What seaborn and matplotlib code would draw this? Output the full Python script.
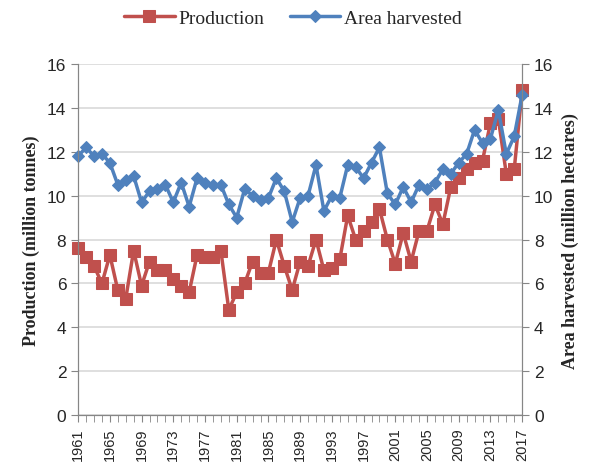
import numpy as np
import matplotlib
matplotlib.use('Agg')
import matplotlib.pyplot as plt
import seaborn as sns

years = list(range(1961, 2018))
production = [7.6, 7.2, 6.8, 6.0, 7.3, 5.7, 5.3, 7.5, 5.9, 7.0,
              6.6, 6.6, 6.2, 5.9, 5.6, 7.3, 7.2, 7.2, 7.5, 4.8,
              5.6, 6.0, 7.0, 6.5, 6.5, 8.0, 6.8, 5.7, 7.0, 6.8,
              8.0, 6.6, 6.7, 7.1, 9.1, 8.0, 8.4, 8.8, 9.4, 8.0,
              6.9, 8.3, 7.0, 8.4, 8.4, 9.6, 8.7, 10.4, 10.8, 11.2,
              11.5, 11.6, 13.3, 13.5, 11.0, 11.2, 14.8]
area = [11.8, 12.2, 11.8, 11.9, 11.5, 10.5, 10.7, 10.9, 9.7, 10.2,
        10.3, 10.5, 9.7, 10.6, 9.5, 10.8, 10.6, 10.5, 10.5, 9.6,
        9.0, 10.3, 10.0, 9.8, 9.9, 10.8, 10.2, 8.8, 9.9, 10.0,
        11.4, 9.3, 10.0, 9.9, 11.4, 11.3, 10.8, 11.5, 12.2, 10.1,
        9.6, 10.4, 9.7, 10.5, 10.3, 10.6, 11.2, 11.0, 11.5, 11.9,
        13.0, 12.4, 12.6, 13.9, 11.9, 12.7, 14.6]

red = '#C0504D'
blue = '#4F81BD'
serif = ['Liberation Serif', 'DejaVu Serif']

sns.set_style('white')
plt.rcParams['font.family'] = ['Liberation Sans', 'DejaVu Sans']

fig = plt.figure(figsize=(5.92, 4.64), dpi=100)
ax = fig.add_axes([0.132, 0.103, 0.750, 0.757])
ax2 = ax.twinx()

sns.lineplot(x=years, y=production, ax=ax, color=red, marker='s', markersize=8.5,
             markeredgecolor=red, linewidth=2.5, label='Production', legend=False,
             clip_on=False)
sns.lineplot(x=years, y=area, ax=ax2, color=blue, marker='D', markersize=6.5,
             markeredgecolor=blue, linewidth=2.5, label='Area harvested', legend=False,
             clip_on=False)

for a in (ax, ax2):
    a.set_ylim(0, 16)
    a.set_yticks(range(0, 17, 2))
    a.tick_params(axis='y', labelsize=12.5, length=5, direction='out', color='#868686')
    for s in a.spines.values():
        s.set_color('#868686')
    a.spines['top'].set_visible(False)

ax.set_xlim(1961, 2017)
ax.set_xticks(range(1961, 2018, 4))
ax.set_xticks(years, minor=True)
ax.tick_params(axis='x', which='both', length=5, direction='out', color='#868686',
               labelsize=10.5, labelrotation=90, bottom=True)
ax.tick_params(axis='y', left=True)
ax2.tick_params(axis='y', right=True)
ax.grid(axis='y', color='#D9D9D9', linewidth=1.2)
ax.set_axisbelow(True)

ax.set_ylabel('Production (million tonnes)', fontfamily=serif, fontweight='bold',
              fontsize=13, labelpad=5)
ax2.set_ylabel('Area harvested (million hectares)', fontfamily=serif, fontweight='bold',
               fontsize=13, rotation=90, labelpad=6)

h1, l1 = ax.get_legend_handles_labels()
h2, l2 = ax2.get_legend_handles_labels()
fig.legend(h1 + h2, l1 + l2, loc='upper center', bbox_to_anchor=(0.495, 1.015), ncol=2,
           frameon=False, prop={'family': serif, 'size': 14}, handlelength=2.6,
           columnspacing=1.3, handletextpad=0.2)

fig.savefig('out.png', dpi=100)
plt.close(fig)
